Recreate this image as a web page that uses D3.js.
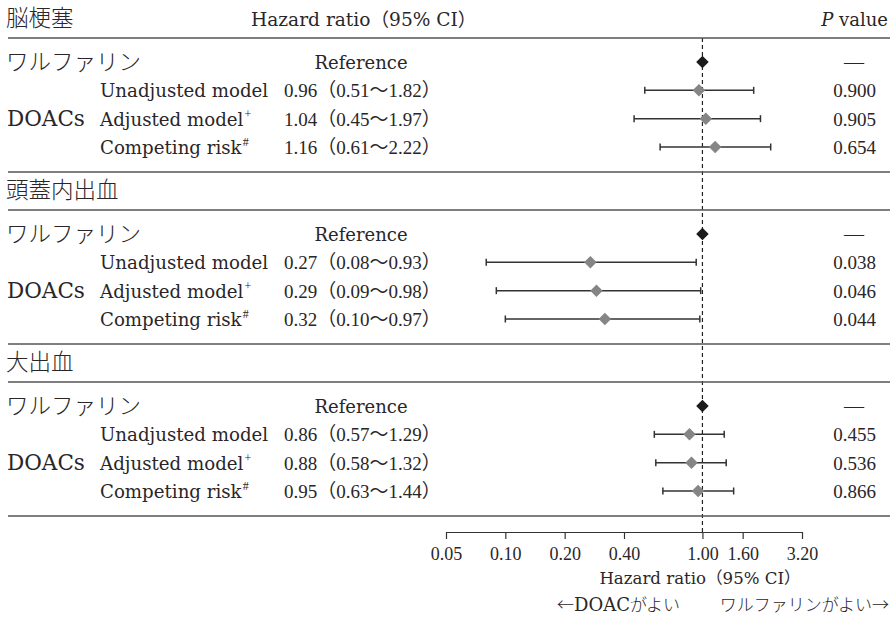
<!DOCTYPE html>
<html>
<head>
<meta charset="utf-8">
<script src="https://cdn.jsdelivr.net/npm/d3@7"></script>
<style>
  body { margin: 0; background: #fff; }
  text { fill: #2a2627; }
</style>
</head>
<body>
<div id="container"></div>
<script>
// data
const outcomes = ["脳梗塞", "頭蓋内出血", "大出血"];
const models = ["Unadjusted model", "Adjusted model", "Competing risk"];
const modelSup = ["", "+", "#"];
const hr = [[0.96, 1.04, 1.16], [0.27, 0.29, 0.32], [0.86, 0.88, 0.95]];
const lower = [[0.51, 0.45, 0.61], [0.08, 0.09, 0.10], [0.57, 0.58, 0.63]];
const upper = [[1.82, 1.97, 2.22], [0.93, 0.98, 0.97], [1.29, 1.32, 1.44]];
const pvals = [["0.900", "0.905", "0.654"], ["0.038", "0.046", "0.044"], ["0.455", "0.536", "0.866"]];
const tickVals = [0.05, 0.10, 0.20, 0.40, 1.00, 1.60, 3.20];
const refValue = 1.0;

const w = 896;
const h = 619;

const SERIF = "'DejaVu Serif','Noto Sans CJK JP',serif";
const NUM = "'Liberation Serif','Noto Sans CJK JP',serif";
const JP = "'Noto Sans CJK JP',sans-serif";

let svg = d3.select("#container")
  .append("svg")
    .attr("width", w)
    .attr("height", h)
    .style("background-color", "#fff");

let x = d3.scaleLog().domain([0.05, 3.2]).range([446, 802]);
let groupY = d3.scaleLinear().domain([0, 1]).range([0, 172]);
let rowY = d3.scaleLinear().domain([0, 3]).range([62, 147]);

const lineColor = "#555";

// header
svg.append("text")
  .attr("x", 251).attr("y", 26)
  .attr("font-family", SERIF).attr("font-size", 18.6)
  .text("Hazard ratio（95% CI）");
let pv = svg.append("text")
  .attr("x", 888).attr("y", 26)
  .attr("text-anchor", "end")
  .attr("font-family", SERIF).attr("font-size", 18);
pv.append("tspan").attr("font-style", "italic").text("P");
pv.append("tspan").text(" value");

// dashed reference line
svg.append("line")
  .attr("x1", x(refValue)).attr("x2", x(refValue))
  .attr("y1", 38).attr("y2", 532)
  .attr("stroke", "#222").attr("stroke-width", 1.2)
  .attr("stroke-dasharray", "4,3");

outcomes.forEach(function(name, g){
  let gy = groupY(g);
  let grp = svg.append("g").attr("transform", "translate(0," + gy + ")");

  // outcome heading
  grp.append("text")
    .attr("x", 6).attr("y", 26)
    .attr("font-family", JP).attr("font-size", 22.5).attr("font-weight", 300)
    .text(name);

  // lines
  grp.append("line")
    .attr("x1", 8).attr("x2", 890).attr("y1", 38).attr("y2", 38)
    .attr("stroke", lineColor).attr("stroke-width", 1.6);
  grp.append("line")
    .attr("x1", 8).attr("x2", 890).attr("y1", 172).attr("y2", 172)
    .attr("stroke", lineColor).attr("stroke-width", 1.6);

  // reference row
  grp.append("text")
    .attr("x", 6).attr("y", rowY(0) + 8)
    .attr("font-family", JP).attr("font-size", 22.5).attr("font-weight", 300)
    .text("ワルファリン");
  grp.append("text")
    .attr("x", 361).attr("y", rowY(0) + 7)
    .attr("text-anchor", "middle")
    .attr("font-family", SERIF).attr("font-size", 18)
    .text("Reference");
  grp.append("path")
    .attr("d", d3.symbol(d3.symbolSquare, 78)())
    .attr("transform", "translate(" + x(refValue) + "," + rowY(0) + ") rotate(45)")
    .attr("fill", "#1a1a1a");
  grp.append("text")
    .attr("x", 854).attr("y", rowY(0) + 7)
    .attr("text-anchor", "middle")
    .attr("font-family", NUM).attr("font-size", 20)
    .text("—");

  // DOACs label
  grp.append("text")
    .attr("x", 7).attr("y", rowY(2) + 7)
    .attr("font-family", SERIF).attr("font-size", 21.5)
    .text("DOACs");

  models.forEach(function(m, i){
    let y = rowY(i + 1);
    let t = grp.append("text")
      .attr("x", 100).attr("y", y + 7)
      .attr("font-family", SERIF).attr("font-size", 18.2);
    t.append("tspan").text(m);
    if (modelSup[i]) {
      t.append("tspan")
        .attr("font-family", NUM)
        .attr("font-size", 12)
        .attr("dx", 1)
        .attr("dy", -8)
        .text(modelSup[i]);
    }

    grp.append("text")
      .attr("x", 284).attr("y", y + 7)
      .attr("font-family", NUM).attr("font-size", 19)
      .text(hr[g][i].toFixed(2) + "（" + lower[g][i].toFixed(2) + "～" + upper[g][i].toFixed(2) + "）");

    // CI whisker
    grp.append("line")
      .attr("x1", x(lower[g][i])).attr("x2", x(upper[g][i]))
      .attr("y1", y).attr("y2", y)
      .attr("stroke", "#333").attr("stroke-width", 1.5);
    [lower[g][i], upper[g][i]].forEach(function(v){
      grp.append("line")
        .attr("x1", x(v)).attr("x2", x(v))
        .attr("y1", y - 3.5).attr("y2", y + 3.5)
        .attr("stroke", "#333").attr("stroke-width", 1.5);
    });
    grp.append("path")
      .attr("d", d3.symbol(d3.symbolSquare, 78)())
      .attr("transform", "translate(" + x(hr[g][i]) + "," + y + ") rotate(45)")
      .attr("fill", "#858585");

    grp.append("text")
      .attr("x", 876).attr("y", y + 7)
      .attr("text-anchor", "end")
      .attr("font-family", NUM).attr("font-size", 19)
      .text(pvals[g][i]);
  });
});

// axis
let axis = svg.append("g")
  .attr("transform", "translate(0,532)")
  .call(d3.axisBottom(x)
    .tickValues(tickVals)
    .tickFormat(d3.format(".2f"))
    .tickSize(7)
    .tickSizeOuter(0)
    .tickPadding(8));
axis.select(".domain").attr("stroke", "#333").attr("stroke-width", 1.2);
axis.selectAll(".tick line").attr("stroke", "#333").attr("stroke-width", 1.2);
axis.selectAll(".tick text")
  .attr("font-family", NUM).attr("font-size", 18)
  .attr("fill", "#2a2627");

svg.append("text")
  .attr("x", 700).attr("y", 584)
  .attr("text-anchor", "middle")
  .attr("font-family", SERIF).attr("font-size", 16.6)
  .text("Hazard ratio（95% CI）");

let left = svg.append("text")
  .attr("x", 557).attr("y", 611)
  .attr("font-family", JP).attr("font-size", 17).attr("font-weight", 300);
left.append("tspan").text("←");
left.append("tspan").attr("font-family", SERIF).attr("font-weight", 400).attr("font-size", 18).text("DOAC");
left.append("tspan").text("がよい");
svg.append("text")
  .attr("x", 889).attr("y", 611)
  .attr("text-anchor", "end")
  .attr("font-family", JP).attr("font-size", 17).attr("font-weight", 300)
  .text("ワルファリンがよい→");
</script>
</body>
</html>
